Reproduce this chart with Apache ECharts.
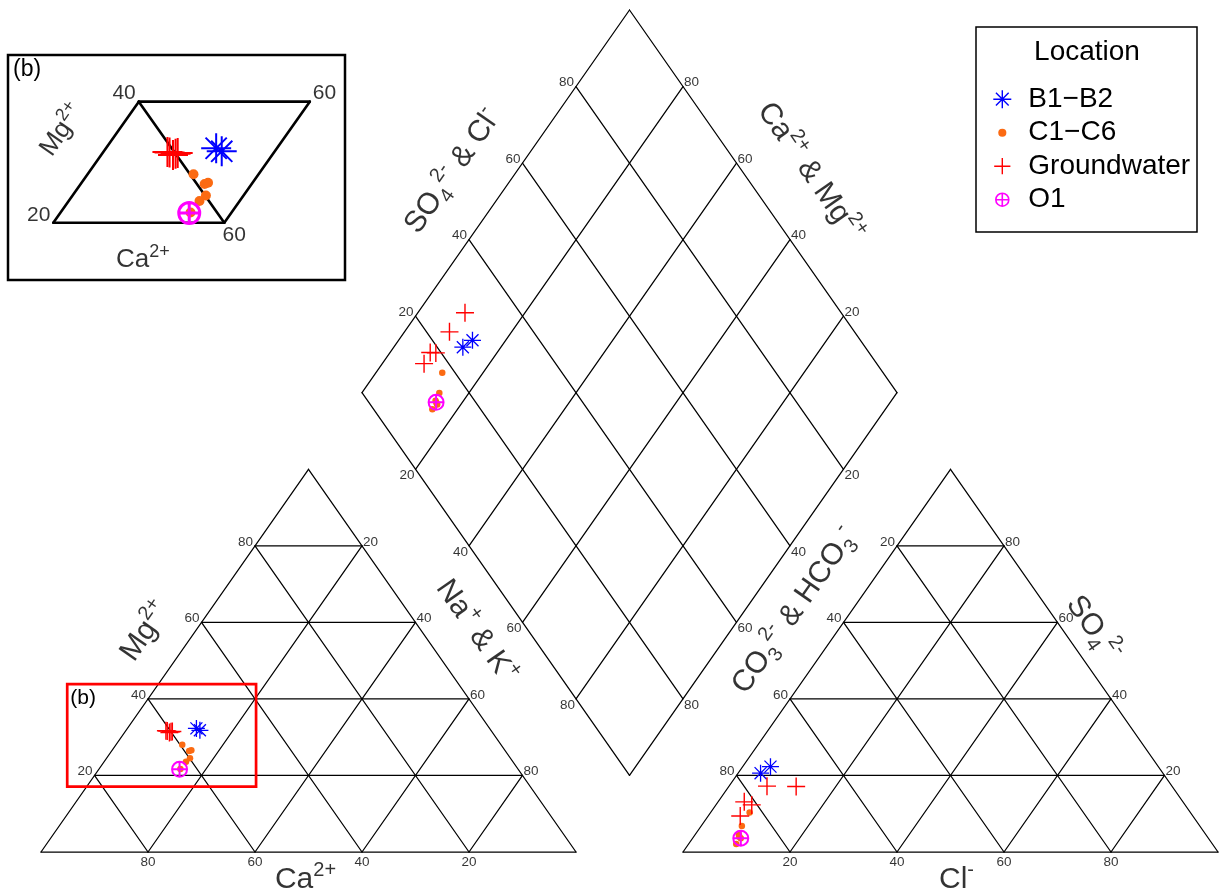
<!DOCTYPE html>
<html>
<head>
<meta charset="utf-8">
<script src="https://cdn.jsdelivr.net/npm/echarts@6/dist/echarts.min.js"></script>
<style>
  html, body { margin: 0; padding: 0; background: #fff; }
  #chart { width: 1219px; height: 894px; }
</style>
</head>
<body>
<div id="chart"></div>
<script>
// Piper diagram: cation triangle (left), anion triangle (right), projection diamond (top)
const FONT = 'Liberation Sans, Arial, Helvetica, sans-serif';
const S = Math.sqrt(3) / 2;

// grid / tick values on every ternary edge
const gridSteps = [20, 40, 60, 80];

// legend entries
const groupNames = ['B1−B2', 'C1−C6', 'Groundwater', 'O1'];

// B1-B2 (% meq)
const bCa = [54.8, 54.4];
const bMg = [32.3, 31.8];
const bNa = [12.9, 13.8];
const bHCO3 = [75.2, 72.5];
const bSO4 = [20.6, 22.3];
const bCl = [4.2, 5.2];

// C1-C6
const cCa = [59.6, 59.1, 58.6, 59.9, 61.1, 63.1];
const cMg = [28.0, 26.4, 26.6, 24.5, 23.6, 21.7];
const cNa = [12.4, 14.5, 14.8, 15.6, 15.3, 15.2];
const cHCO3 = [82.4, 85.6, 87.3, 87.5, 89.0, 87.4];
const cSO4 = [10.3, 6.8, 4.5, 4.0, 2.1, 3.6];
const cCl = [7.3, 7.6, 8.2, 8.5, 8.9, 9.0];

// Groundwater
const gwCa = [59.7, 60.4, 60.8, 60.0, 60.6];
const gwMg = [31.5, 31.2, 31.7, 31.4, 31.6];
const gwNa = [8.8, 8.4, 7.5, 8.6, 7.8];
const gwHCO3 = [70.3, 75.7, 82.0, 81.0, 84.6];
const gwSO4 = [17.1, 17.2, 13.1, 12.3, 9.4];
const gwCl = [12.6, 7.1, 4.9, 6.7, 6.0];

// O1
const oCa = [63.3];
const oMg = [21.6];
const oNa = [15.1];
const oHCO3 = [87.4];
const oSO4 = [3.6];
const oCl = [9.0];

// detail window shown in panel (b), in plot units
const detailFrame = [4.9, 14.8, 40.2, 38.0];

// ---------- geometry ----------
function cationXY(mg, na) { return [na + mg / 2, mg * S]; }
function anionXY(so4, cl) { return [120 + cl + so4 / 2, so4 * S]; }
function diamondXY(na, hco3) {
  const t = (220 - hco3 - na) / 100;
  return [na + 50 * t, 100 * S * t];
}

const G0 = { left: 41, top: 10, width: 1177, height: 842, xMin: 0, xMax: 220, yMin: 0, yMax: 220 * S };
const G1 = { left: 8, top: 55, width: 337, height: 225, xMin: 4.70, xMax: 44.12, yMin: 9.12, yMax: 41.32 };

function shift(g, p, dx, dy) {
  return [p[0] + dx * (g.xMax - g.xMin) / g.width, p[1] - dy * (g.yMax - g.yMin) / g.height];
}
function mid(a, b) { return [(a[0] + b[0]) / 2, (a[1] + b[1]) / 2]; }

// grid segments
const segs = [];
function seg(a, b) { segs.push([a[0], a[1], b[0], b[1]]); }
// triangles: ox = 0 (cation) or 120 (anion)
[0, 120].forEach(ox => {
  seg([ox, 0], [ox + 100, 0]);
  seg([ox, 0], [ox + 50, 100 * S]);
  seg([ox + 100, 0], [ox + 50, 100 * S]);
  gridSteps.forEach(v => {
    seg([ox + v / 2, v * S], [ox + 100 - v / 2, v * S]);                 // horizontal
    seg([ox + v, 0], [ox + v + (100 - v) / 2, (100 - v) * S]);           // parallel to left edge
    seg([ox + 100 - v, 0], [ox + (100 - v) / 2, (100 - v) * S]);         // parallel to right edge
  });
});
// diamond
const dLeft = diamondXY(0, 100), dTop = diamondXY(0, 0), dRight = diamondXY(100, 0), dBottom = diamondXY(100, 100);
seg(dLeft, dTop);
seg(dTop, dRight);
seg(dRight, dBottom);
seg(dBottom, dLeft);
gridSteps.forEach(v => {
  seg(diamondXY(v, 100), diamondXY(v, 0));
  seg(diamondXY(100, v), diamondXY(0, v));
});

// detail panel outline: Mg 20-40, Na+K 0-20, with the Ca 60 diagonal
const insetSegs = [];
[[cationXY(20, 0), cationXY(40, 0)], [cationXY(40, 0), cationXY(40, 20)],
 [cationXY(40, 20), cationXY(20, 20)], [cationXY(20, 20), cationXY(20, 0)],
 [cationXY(40, 0), cationXY(20, 20)]].forEach(([a, b]) => insetSegs.push([a[0], a[1], b[0], b[1]]));

// tick labels
const tickItems = [];
function tick(p, text, position, dy, distance) {
  tickItems.push({ value: p, name: text,
    label: { position: position, offset: [0, dy], distance: distance } });
}
gridSteps.forEach(v => {
  // cation
  tick([100 - v, 0], String(v), 'bottom', 0, 3);                    // Ca
  tick(cationXY(v, 0), String(v), 'left', -4, 2);                   // Mg
  tick(cationXY(100 - v, v), String(v), 'right', -4, 1);            // Na+K
  // anion
  tick([120 + v, 0], String(v), 'bottom', 0, 3);                    // Cl
  tick(anionXY(100 - v, 0), String(v), 'left', -4, 2);              // CO3+HCO3
  tick(anionXY(v, 100 - v), String(v), 'right', -4, 1);             // SO4
  // diamond
  tick(diamondXY(0, 100 - v), String(v), 'left', -4, 2);
  tick(diamondXY(100 - v, 0), String(v), 'right', -4, 1);
  tick(diamondXY(v, 100), String(v), 'left', 6, 1);
  tick(diamondXY(100, v), String(v), 'right', 6, 1);
});

const insetTicks = [
  { value: cationXY(40, 0), name: '40', label: { position: 'left', distance: 3, offset: [0, -8] } },
  { value: cationXY(20, 0), name: '20', label: { position: 'left', distance: 3, offset: [0, -7] } },
  { value: cationXY(20, 20), name: '60', label: { position: 'bottom', distance: 2, offset: [10, 0] } },
  { value: cationXY(40, 20), name: '60', label: { position: 'right', distance: 3, offset: [0, -8] } }
];

// axis titles
const titleRich = {
  b: { fontSize: 30, fontFamily: FONT, color: '#000', lineHeight: 40 },
  sup: { fontSize: 20, fontFamily: FONT, color: '#000', lineHeight: 22, verticalAlign: 'top' },
  sub: { fontSize: 20, fontFamily: FONT, color: '#000', lineHeight: 22, verticalAlign: 'bottom' }
};
const insetRich = {
  b: { fontSize: 26, fontFamily: FONT, color: '#000', lineHeight: 34 },
  sup: { fontSize: 18, fontFamily: FONT, color: '#000', lineHeight: 18, verticalAlign: 'top' },
  sub: { fontSize: 18, fontFamily: FONT, color: '#000', lineHeight: 18, verticalAlign: 'bottom' }
};
const EDGE = Math.atan((100 * S * G0.height / G0.yMax) / (50 * G0.width / G0.xMax)) * 180 / Math.PI;
function title(g, p, dx, dy, text, rot) {
  return { value: shift(g, p, dx, dy), label: { formatter: text, rotate: rot } };
}
const titleItems = [
  title(G0, mid(dLeft, dTop), -43, -30, '{b|SO}{sub|4}{sup|2-}{b| & Cl}{sup|-}', EDGE),
  title(G0, mid(dTop, dRight), 47, -29, '{b|Ca}{sup|2+}{b| & Mg}{sup|2+}', -EDGE),
  title(G0, [25, 50 * S], -29, -29, '{b|Mg}{sup|2+}', EDGE),
  title(G0, [75, 50 * S], 34, -29, '{b|Na}{sup|+}{b| & K}{sup|+}', -EDGE),
  title(G0, [145, 50 * S], -22, -50, '{b|CO}{sub|3}{sup|2-}{b| & HCO}{sub|3}{sup|-}', EDGE),
  title(G0, [195, 50 * S], 9, -32, '{b|SO}{sub|4}{sup|2-}', -EDGE),
  title(G0, [50, 0], -3, 28, '{b|Ca}{sup|2+}', 0),
  title(G0, [170, 0], 6, 28, '{b|Cl}{sup|-}', 0)
];
const insetTitles = [
  title(G1, cationXY(30, 0), -34, -32, '{b|Mg}{sup|2+}', EDGE),
  title(G1, cationXY(20, 10), 4, 37, '{b|Ca}{sup|2+}', 0)
];

// ---------- samples ----------
const groups = [
  { name: groupNames[0], mg: bMg, na: bNa, hco3: bHCO3, so4: bSO4, cl: bCl },
  { name: groupNames[1], mg: cMg, na: cNa, hco3: cHCO3, so4: cSO4, cl: cCl },
  { name: groupNames[2], mg: gwMg, na: gwNa, hco3: gwHCO3, so4: gwSO4, cl: gwCl },
  { name: groupNames[3], mg: oMg, na: oNa, hco3: oHCO3, so4: oSO4, cl: oCl }
];

const P_STAR = 'path://M0,-1L0,1M-1,0L1,0M-0.707,-0.707L0.707,0.707M-0.707,0.707L0.707,-0.707';
const P_PLUS = 'path://M0,-1L0,1M-1,0L1,0';
const P_OPLUS = 'path://M1,0A1,1,0,1,1,-1,0A1,1,0,1,1,1,0ZM-1,0L1,0M0,-1L0,1';

const looks = {
  'B1−B2': { symbol: P_STAR, size: 17, insetSize: 30, color: '#0000ff', filled: false, lw: 1.3, insetLw: 2,
    legendIcon: P_STAR },
  'C1−C6': { symbol: 'circle', size: 6.5, insetSize: 10, color: '#fb6a12', filled: true, lw: 0, insetLw: 0,
    legendIcon: 'path://M-1,-1M1,1M0.45,0A0.45,0.45,0,1,1,-0.45,0A0.45,0.45,0,1,1,0.45,0Z' },
  'Groundwater': { symbol: P_PLUS, size: 18, insetSize: 30, color: '#ff0000', filled: false, lw: 1.4, insetLw: 2,
    legendIcon: 'path://M-1,-1M1,1M0,-0.9L0,0.9M-0.9,0L0.9,0' },
  'O1': { symbol: P_OPLUS, size: 15, insetSize: 21, color: '#ff00ff', filled: false, lw: 2, insetLw: 3,
    legendIcon: 'path://M-1,-1M1,1M0.72,0A0.72,0.72,0,1,1,-0.72,0A0.72,0.72,0,1,1,0.72,0ZM-0.72,0L0.72,0M0,-0.72L0,0.72' }
};

function markerStyle(lk, lw) {
  return lk.filled
    ? { color: lk.color, borderWidth: 0, opacity: 1 }
    : { color: 'rgba(0,0,0,0)', borderColor: lk.color, borderWidth: lw, opacity: 1 };
}

const sampleSeries = [];
groups.forEach((g, gi) => {
  const lk = looks[g.name];
  const main = [];
  const inset = [];
  g.mg.forEach((_, i) => {
    main.push(cationXY(g.mg[i], g.na[i]));
    main.push(diamondXY(g.na[i], g.hco3[i]));
    main.push(anionXY(g.so4[i], g.cl[i]));
    inset.push(cationXY(g.mg[i], g.na[i]));
  });
  sampleSeries.push({
    type: 'scatter', name: g.name, xAxisIndex: 0, yAxisIndex: 0, data: main, clip: false,
    symbol: lk.symbol, symbolSize: lk.size, itemStyle: markerStyle(lk, lk.lw),
    z: 10 + gi, silent: true, emphasis: { disabled: true }
  });
  sampleSeries.push({
    type: 'scatter', name: g.name, xAxisIndex: 1, yAxisIndex: 1, data: inset, clip: false,
    symbol: lk.symbol, symbolSize: lk.insetSize, itemStyle: markerStyle(lk, lk.insetLw),
    z: 10 + gi, silent: true, emphasis: { disabled: true }
  });
});

function lineRenderer(stroke, width) {
  return function (params, api) {
    const a = api.coord([api.value(0), api.value(1)]);
    const b = api.coord([api.value(2), api.value(3)]);
    return { type: 'line', shape: { x1: a[0], y1: a[1], x2: b[0], y2: b[1] },
      style: { stroke: stroke, lineWidth: width, lineCap: 'round' } };
  };
}

const labelCarrier = {
  type: 'scatter', symbol: 'circle', symbolSize: 0, silent: true, clip: false,
  itemStyle: { color: 'rgba(0,0,0,0)' }, emphasis: { disabled: true }
};

const option = {
  animation: false,
  backgroundColor: '#fff',
  grid: [
    { left: G0.left, top: G0.top, width: G0.width, height: G0.height, show: false },
    { left: G1.left, top: G1.top, width: G1.width, height: G1.height, show: true,
      backgroundColor: '#fff', borderColor: '#000', borderWidth: 2.5 }
  ],
  xAxis: [
    { type: 'value', gridIndex: 0, min: G0.xMin, max: G0.xMax, show: false },
    { type: 'value', gridIndex: 1, min: G1.xMin, max: G1.xMax, show: false }
  ],
  yAxis: [
    { type: 'value', gridIndex: 0, min: G0.yMin, max: G0.yMax, show: false },
    { type: 'value', gridIndex: 1, min: G1.yMin, max: G1.yMax, show: false }
  ],
  legend: {
    orient: 'vertical', left: 992.5, top: 84.2, itemWidth: 42, itemHeight: 18, itemGap: 3.5,
    selectedMode: false, padding: 0,
    textStyle: { fontSize: 28, fontFamily: FONT, color: '#000', lineHeight: 30 },
    data: groupNames.map(n => ({
      name: n, icon: looks[n].legendIcon,
      itemStyle: looks[n].filled
        ? { color: looks[n].color, borderWidth: 0 }
        : { color: 'rgba(0,0,0,0)', borderColor: looks[n].color, borderWidth: n === 'O1' ? 1.6 : 1.4 }
    }))
  },
  graphic: [
    { type: 'rect', shape: { x: 976, y: 27, width: 221, height: 205 },
      style: { fill: 'none', stroke: '#000', lineWidth: 1.5 }, z: 1 },
    { type: 'text', x: 1087, y: 52,
      style: { text: 'Location', fontSize: 28, fontFamily: FONT, fill: '#000', align: 'center', verticalAlign: 'middle' } },
    { type: 'text', x: 13, y: 58,
      style: { text: '(b)', fontSize: 23, fontFamily: FONT, fill: '#000', align: 'left', verticalAlign: 'top' }, z: 100 }
  ],
  series: [
    { type: 'custom', xAxisIndex: 0, yAxisIndex: 0, data: segs, silent: true, clip: false,
      encode: { x: [0, 2], y: [1, 3] }, renderItem: lineRenderer('#000', 1.25), z: 2 },
    { type: 'custom', xAxisIndex: 1, yAxisIndex: 1, data: insetSegs, silent: true, clip: false,
      encode: { x: [0, 2], y: [1, 3] }, renderItem: lineRenderer('#000', 2.6), z: 2 },
    { type: 'custom', xAxisIndex: 0, yAxisIndex: 0, data: [detailFrame], silent: true, clip: false,
      encode: { x: [0, 2], y: [1, 3] }, z: 20,
      renderItem: function (params, api) {
        const a = api.coord([api.value(0), api.value(3)]);
        const b = api.coord([api.value(2), api.value(1)]);
        return { type: 'group', children: [
          { type: 'rect', shape: { x: a[0], y: a[1], width: b[0] - a[0], height: b[1] - a[1] },
            style: { fill: 'none', stroke: '#ff0000', lineWidth: 2.7 } },
          { type: 'text', x: a[0] + 3, y: a[1] + 4,
            style: { text: '(b)', fontSize: 21, fontFamily: FONT, fill: '#000', align: 'left', verticalAlign: 'top' } }
        ] };
      } },
    Object.assign({}, labelCarrier, { xAxisIndex: 0, yAxisIndex: 0, data: tickItems, z: 3,
      label: { show: true, formatter: '{b}', fontSize: 13.5, fontFamily: FONT, color: '#000' } }),
    Object.assign({}, labelCarrier, { xAxisIndex: 1, yAxisIndex: 1, data: insetTicks, z: 3,
      label: { show: true, formatter: '{b}', fontSize: 21, fontFamily: FONT, color: '#000' } }),
    Object.assign({}, labelCarrier, { xAxisIndex: 0, yAxisIndex: 0, data: titleItems, z: 3,
      label: { show: true, position: 'inside', align: 'center', verticalAlign: 'middle', rich: titleRich } }),
    Object.assign({}, labelCarrier, { xAxisIndex: 1, yAxisIndex: 1, data: insetTitles, z: 3,
      label: { show: true, position: 'inside', align: 'center', verticalAlign: 'middle', rich: insetRich } })
  ].concat(sampleSeries)
};

const chart = echarts.init(document.getElementById('chart'), null, { renderer: 'canvas' });
chart.setOption(option);
</script>
</body>
</html>
